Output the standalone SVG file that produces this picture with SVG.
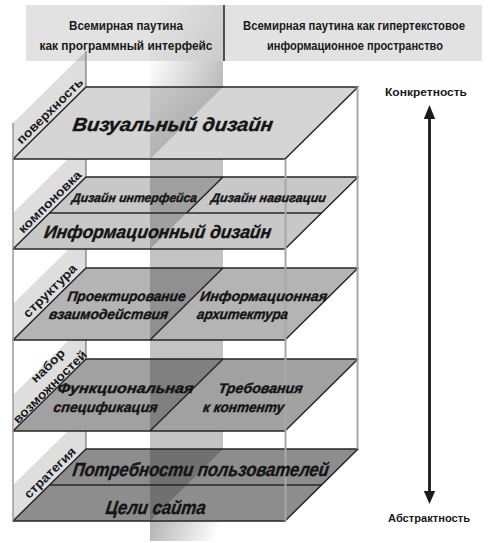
<svg xmlns="http://www.w3.org/2000/svg" width="489" height="543" viewBox="0 0 489 543">
<defs>
  <linearGradient id="colTop" x1="150" y1="58" x2="223" y2="87" gradientUnits="userSpaceOnUse">
    <stop offset="0" stop-color="#ffffff"/>
    <stop offset="1" stop-color="#b9b9b9"/>
  </linearGradient>
  <linearGradient id="colBot" x1="150" y1="521" x2="215" y2="543" gradientUnits="userSpaceOnUse">
    <stop offset="0" stop-color="#b3b3b3"/>
    <stop offset="1" stop-color="#ffffff"/>
  </linearGradient>
  <linearGradient id="hdrShade" x1="150" y1="20" x2="223" y2="61" gradientUnits="userSpaceOnUse">
    <stop offset="0" stop-color="#000" stop-opacity="0"/>
    <stop offset="1" stop-color="#000" stop-opacity="0.1"/>
  </linearGradient>
  <linearGradient id="shade1" x1="150" y1="87" x2="200" y2="140" gradientUnits="userSpaceOnUse">
    <stop offset="0" stop-color="#000" stop-opacity="0.06"/>
    <stop offset="1" stop-color="#000" stop-opacity="0.2"/>
  </linearGradient>
</defs>
<style>
  .hdr{fill:#e2e2e2}
  .ht{font-family:"Liberation Sans",Arial,sans-serif;font-weight:bold;font-size:13.5px;fill:#1a1a1a;text-anchor:middle}
  .panel{fill:#000;fill-opacity:0.13}
  .pl{font-family:"Liberation Sans",Arial,sans-serif;font-weight:bold;font-size:12.5px;fill:#1a1a1a;text-anchor:middle}
  .plane{stroke:#262626;stroke-width:1.5;stroke-linejoin:round}
  .shade{fill:#000;fill-opacity:0.2}
  .ln{stroke:#262626;stroke-width:1.5;fill:none}
  .edge{stroke:#a8a8a8;stroke-width:2}
  .bedge{stroke:#9a9a9a;stroke-width:1.5}
  .t{font-family:"Liberation Sans",Arial,sans-serif;font-weight:bold;font-style:italic;fill:#141414;stroke:#141414;stroke-width:0.4;text-anchor:middle}
  .ax{font-family:"Liberation Sans",Arial,sans-serif;font-weight:bold;font-size:11px;fill:#1a1a1a;text-anchor:middle}
</style>

<g id="header">
  <rect class="hdr" x="26" y="5" width="456" height="56"/>
  <rect x="150" y="5" width="74" height="56" fill="url(#hdrShade)"/>
  <line x1="224" y1="5" x2="224" y2="61" stroke="#222" stroke-width="1.5"/>
  <text class="ht" x="126" y="30" textLength="114" lengthAdjust="spacingAndGlyphs">Всемирная паутина</text>
  <text class="ht" x="126" y="49.5" textLength="173" lengthAdjust="spacingAndGlyphs">как программный интерфейс</text>
  <text class="ht" x="354" y="30" textLength="222" lengthAdjust="spacingAndGlyphs">Всемирная паутина как гипертекстовое</text>
  <text class="ht" x="355" y="49.5" textLength="176" lengthAdjust="spacingAndGlyphs">информационное пространство</text>
</g>

<g id="column">
  <rect x="150" y="61" width="73" height="26" fill="url(#colTop)"/>
  <rect x="150" y="87" width="73" height="434" fill="#c3c3c3"/>
  <rect x="150" y="521" width="73" height="20" fill="url(#colBot)"/>
</g>

<g id="connectors">
  <line class="bedge" x1="86" y1="51" x2="86" y2="449"/>
</g>

<g id="panels">
  <polygon class="panel" points="13,123 86,51 86,87 13,159"/>
  <polygon class="panel" points="13,213 86,141 86,177 13,249"/>
  <polygon class="panel" points="13,304 86,232 86,268 13,340"/>
  <polygon class="panel" points="13,395 86,323 86,359 13,431"/>
  <polygon class="panel" points="13,485 86,413 86,449 13,521"/>
</g>

<g id="layer-surface">
  <polygon class="plane" fill="#d5d5d5" points="86,87 358,87 285,159 13,159"/>
  <polygon fill="url(#shade1)" points="150,87 223,87 150,159"/>
</g>
<g id="layer-skeleton">
  <polygon class="plane" fill="#c8c8c8" points="86,177 358,177 285,249 13,249"/>
  <polygon class="shade" points="150,177 223,177 150,249"/>
  <line class="ln" x1="49.5" y1="213" x2="321.5" y2="213"/>
  <line class="ln" x1="223" y1="177" x2="186.5" y2="213"/>
</g>
<g id="layer-structure">
  <polygon class="plane" fill="#b4b4b4" points="86,268 358,268 285,340 13,340"/>
  <polygon class="shade" points="150,268 223,268 150,340"/>
  <line class="ln" x1="223" y1="268" x2="150" y2="340"/>
</g>
<g id="layer-scope">
  <polygon class="plane" fill="#a1a1a1" points="86,359 358,359 285,431 13,431"/>
  <polygon class="shade" points="150,359 223,359 150,431"/>
  <line class="ln" x1="223" y1="359" x2="150" y2="431"/>
</g>
<g id="layer-strategy">
  <polygon class="plane" fill="#8d8d8d" points="86,449 358,449 285,521 13,521"/>
  <polygon class="shade" points="150,449 223,449 150,521"/>
  <line class="ln" x1="49.5" y1="485" x2="321.5" y2="485"/>
</g>

<g id="box-edges">
  <line class="edge" x1="285.5" y1="159" x2="285.5" y2="521"/>
  <line class="edge" x1="357.5" y1="87" x2="357.5" y2="449"/>
  <line class="bedge" x1="13" y1="123" x2="13" y2="521"/>
</g>

<g id="panel-labels">
  <text class="pl" transform="translate(50,111) rotate(-44.6)" y="4" textLength="88" lengthAdjust="spacingAndGlyphs">поверхность</text>
  <text class="pl" transform="translate(50,202) rotate(-44.6)" y="4" textLength="83" lengthAdjust="spacingAndGlyphs">компоновка</text>
  <text class="pl" transform="translate(50,291) rotate(-44.6)" y="4" textLength="70" lengthAdjust="spacingAndGlyphs">структура</text>
  <text class="pl" transform="translate(48,366) rotate(-44.6)" y="4" textLength="42" lengthAdjust="spacingAndGlyphs">набор</text>
  <text class="pl" transform="translate(50,387) rotate(-44.6)" y="4" textLength="98" lengthAdjust="spacingAndGlyphs">возможностей</text>
  <text class="pl" transform="translate(50,473) rotate(-44.6)" y="4" textLength="67" lengthAdjust="spacingAndGlyphs">стратегия</text>
</g>

<g id="plane-labels">
  <text class="t" font-size="19" transform="translate(172,131) skewX(-8)" textLength="200" lengthAdjust="spacingAndGlyphs">Визуальный дизайн</text>
  <text class="t" font-size="12.5" transform="translate(134,202) skewX(-8)" textLength="125" lengthAdjust="spacingAndGlyphs">Дизайн интерфейса</text>
  <text class="t" font-size="12.5" transform="translate(268,202) skewX(-8)" textLength="115" lengthAdjust="spacingAndGlyphs">Дизайн навигации</text>
  <text class="t" font-size="18" transform="translate(157,238) skewX(-8)" textLength="227" lengthAdjust="spacingAndGlyphs">Информационный дизайн</text>
  <text class="t" font-size="14" transform="translate(126,301) skewX(-8)" textLength="118" lengthAdjust="spacingAndGlyphs">Проектирование</text>
  <text class="t" font-size="14" transform="translate(108,319) skewX(-8)" textLength="119" lengthAdjust="spacingAndGlyphs">взаимодействия</text>
  <text class="t" font-size="14" transform="translate(263,301) skewX(-8)" textLength="127" lengthAdjust="spacingAndGlyphs">Информационная</text>
  <text class="t" font-size="14" transform="translate(242,319) skewX(-8)" textLength="91" lengthAdjust="spacingAndGlyphs">архитектура</text>
  <text class="t" font-size="14" transform="translate(125,393) skewX(-8)" textLength="136" lengthAdjust="spacingAndGlyphs">Функциональная</text>
  <text class="t" font-size="14" transform="translate(105,412) skewX(-8)" textLength="104" lengthAdjust="spacingAndGlyphs">спецификация</text>
  <text class="t" font-size="14" transform="translate(260,393) skewX(-8)" textLength="84" lengthAdjust="spacingAndGlyphs">Требования</text>
  <text class="t" font-size="14" transform="translate(243,412) skewX(-8)" textLength="81" lengthAdjust="spacingAndGlyphs">к контенту</text>
  <text class="t" font-size="19" transform="translate(200,476) skewX(-8)" textLength="256" lengthAdjust="spacingAndGlyphs">Потребности пользователей</text>
  <text class="t" font-size="19" transform="translate(155,514) skewX(-8)" textLength="100" lengthAdjust="spacingAndGlyphs">Цели сайта</text>
</g>

<g id="axis">
  <line x1="429.5" y1="117" x2="429.5" y2="493" stroke="#1a1a1a" stroke-width="2.8"/>
  <polygon points="429.5,105 423.8,119 435.2,119" fill="#1a1a1a"/>
  <polygon points="429.5,504 423.8,491 435.2,491" fill="#1a1a1a"/>
  <text class="ax" x="426" y="96" textLength="82" lengthAdjust="spacingAndGlyphs">Конкретность</text>
  <text class="ax" x="429" y="522" textLength="82" lengthAdjust="spacingAndGlyphs">Абстрактность</text>
</g>
</svg>
